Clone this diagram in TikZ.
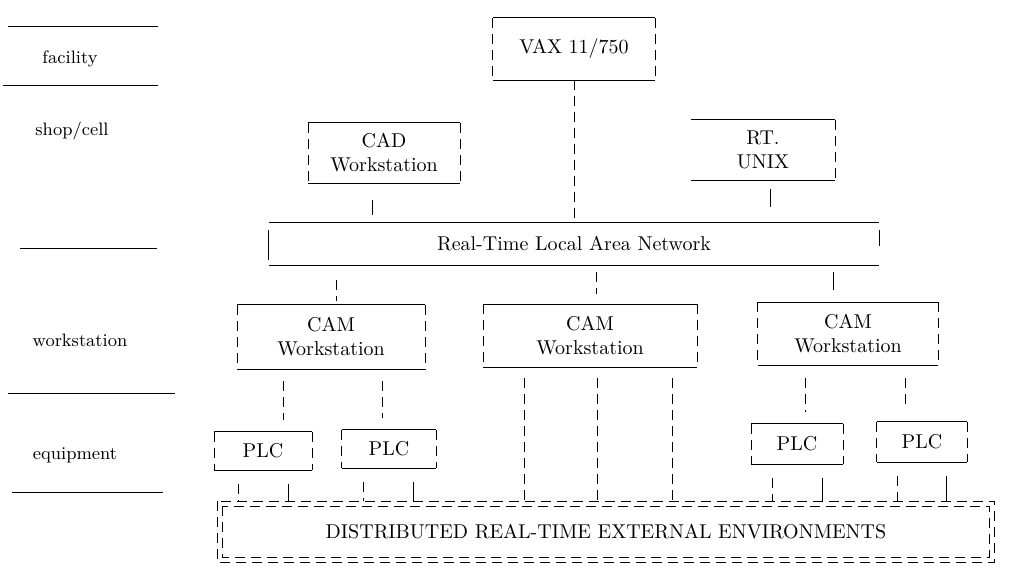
\documentclass[tikz,border=0pt]{standalone}
\usetikzlibrary{calc}
\tikzset{
  unit/.style={inner sep=0pt, align=center},
  link/.style={dash pattern=on 5pt off 3pt},
  tier/.style={font=\small},
}
% solid top and bottom, broken sides
\newcommand{\unitedges}[1]{%
  \draw (#1.north west) -- (#1.north east);
  \draw (#1.south west) -- (#1.south east);
  \draw[link] (#1.north west) -- (#1.south west);
  \draw[link] (#1.north east) -- (#1.south east);
}
\begin{document}
\begin{tikzpicture}[x=0.5pt, y=-0.5pt]
  \useasboundingbox (0,0) rectangle (1013,571);
  % level rules and names
  \draw (8,26) -- (158,26);
  \draw (3,85) -- (158,85);
  \draw (20,248) -- (157,248);
  \draw (8,393) -- (175,393);
  \draw (12,492) -- (163,492);
  \node[tier] (lvfac) at (70,59) {facility};
  \node[tier] (lvshop) at (72,131) {shop/cell};
  \node[tier] (lvws) at (80,340) {workstation};
  \node[tier] (lveq) at (75,455) {equipment};
  % facility
  \node[unit, minimum width=81pt, minimum height=31pt] (vax) at (574,49) {VAX 11/750};
  \unitedges{vax}
  % shop/cell
  \node[unit, minimum width=75.5pt, minimum height=30pt] (cad) at (384,153) {CAD\\Workstation};
  \unitedges{cad}
  \node[unit, minimum width=72pt, minimum height=30pt] (rtunix) at (763,150) {RT.\\UNIX};
  \draw (rtunix.north west) -- (rtunix.north east);
  \draw (rtunix.south west) -- (rtunix.south east);
  \draw[link] (rtunix.north east) -- (rtunix.south east);
  % network
  \node[unit, minimum width=305pt, minimum height=21pt] (lan) at (574,244) {Real-Time Local Area Network};
  \draw (lan.north west) -- (lan.north east);
  \draw (lan.south west) -- (lan.south east);
  \draw ($(lan.north west)+(0,7)$) -- ($(lan.south west)+(0,-5)$);
  \draw ($(lan.north east)+(0,7)$) -- ($(lan.east)+(0,2)$);
  \draw[link] (vax.south) -- (vax.south |- lan.north);
  \draw (cad.south) ++(-12,17) -- ($(cad.south |- lan.north)+(-12,-8)$);
  \draw (rtunix.south) ++(7,9) -- ($(rtunix.south |- lan.north)+(7,-16)$);
  % workstation
  \node[unit, minimum width=93.5pt, minimum height=32pt] (cama) at (331,337) {CAM\\Workstation};
  \unitedges{cama}
  \node[unit, minimum width=106.5pt, minimum height=31.5pt] (camb) at (590,336) {CAM\\Workstation};
  \unitedges{camb}
  \node[unit, minimum width=90pt, minimum height=31.5pt] (camc) at (848,334) {CAM\\Workstation};
  \unitedges{camc}
  \draw[link] ($(lan.south)+(-238,0)$) ++(0,15) -- ($(cama.north)+(5,-4)$);
  \draw[link] ($(lan.south)+(22,0)$) ++(0,7) -- ($(camb.north)+(6,-10)$);
  \draw ($(lan.south)+(259,0)$) ++(0,7) -- ($(camc.north)+(-15,-12)$);
  % equipment
  \node[unit, minimum width=48.5pt, minimum height=19pt] (plca) at (263,451) {PLC};
  \unitedges{plca}
  \node[unit, minimum width=47pt, minimum height=19pt] (plcb) at (389,449) {PLC};
  \unitedges{plcb}
  \node[unit, minimum width=45.5pt, minimum height=20pt] (plcc) at (797,444) {PLC};
  \unitedges{plcc}
  \node[unit, minimum width=45pt, minimum height=20pt] (plcd) at (922,442) {PLC};
  \unitedges{plcd}
  \foreach \unit/\cam/\dx in {plca/cama/20, plcb/cama/-7, plcc/camc/8, plcd/camc/-17} {
    \draw[link] ($(\unit.north |- \cam.south)+(\dx,12)$) -- ($(\unit.north)+(\dx,-12)$);
  }
  % external environments
  \node[unit, minimum width=388pt, minimum height=30.5pt] (env) at (606,532) {DISTRIBUTED REAL-TIME EXTERNAL ENVIRONMENTS};
  \draw[link] (env.north west) rectangle (env.south east);
  \draw[link] ($(env.north west)+(5,5)$) rectangle ($(env.south east)+(-5,-5)$);
  \foreach \dx in {-66,7,82} {
    \draw[link] ($(camb.south)+(\dx,10)$) -- ($(camb.south |- env.north)+(\dx,0)$);
  }
  \foreach \unit/\da/\db in {plca/24/74, plcb/22/72, plcc/21/71, plcd/21/70} {
    \draw[link] ($(\unit.south west)+(\da,14)$) -- ($(\unit.south west |- env.north)+(\da,0)$);
    \draw ($(\unit.south west)+(\db,14)$) -- ($(\unit.south west |- env.north)+(\db,0)$);
  }
\end{tikzpicture}
\end{document}
